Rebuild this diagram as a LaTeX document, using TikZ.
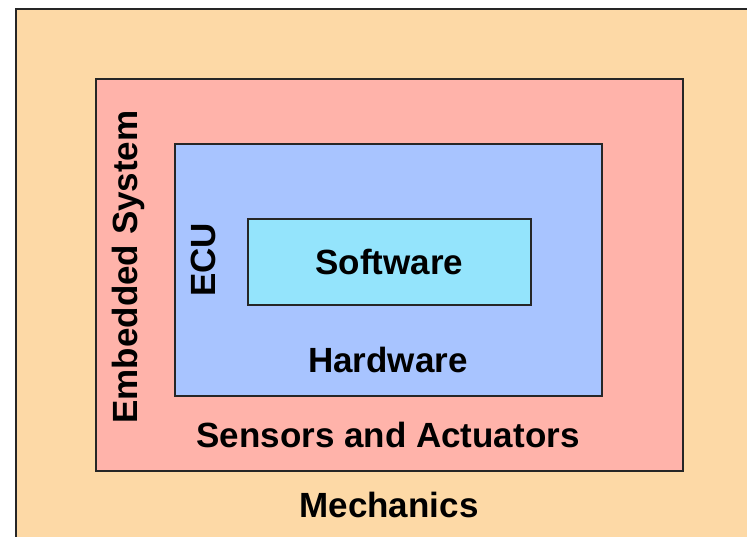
\documentclass[tikz,border=0pt]{standalone}
\usepackage{fontspec}
\setmainfont{Liberation Sans}
\usetikzlibrary{positioning}

\definecolor{mechfill}{HTML}{FDD9A6}
\definecolor{sensfill}{HTML}{FFB3AA}
\definecolor{hwfill}{HTML}{A8C4FF}
\definecolor{swfill}{HTML}{94E4FC}

\tikzset{
  layer/.style={draw=black!85, line width=1.6pt, anchor=north west, inner sep=0pt},
  lbl/.style={font=\fontsize{35}{42}\selectfont\bfseries, inner sep=0pt}
}

\begin{document}
\begin{tikzpicture}[x=1pt,y=-1pt]
			\useasboundingbox (0,0) rectangle (747,536);
			\clip (0,0) rectangle (747,536);
			\node[layer, fill=mechfill, minimum width=760pt, minimum height=560pt] (mech) at (15,8) {};
			\node[layer, fill=sensfill, minimum width=587pt, minimum height=392pt] (sens) at (95,78) {};
			\node[layer, fill=hwfill, minimum width=427pt, minimum height=252pt] (hw) at (174,143) {};
			\node[layer, fill=swfill, minimum width=283pt, minimum height=86pt] (sw) at (247,218) {};
			\node[lbl] (swlabel) at (sw.center) {Software};
			\node[lbl] (hwlabel) at (388,360) {Hardware};
			\node[lbl] (senslabel) at (388,435) {Sensors and Actuators};
			\node[lbl] (mechlabel) at (389,505) {Mechanics};
			\node[lbl, rotate=90] (emblabel) at (128,267) {Embedded System};
			\node[lbl, rotate=90] (ecu) at (203,260) {ECU};
		\end{tikzpicture}
\end{document}
